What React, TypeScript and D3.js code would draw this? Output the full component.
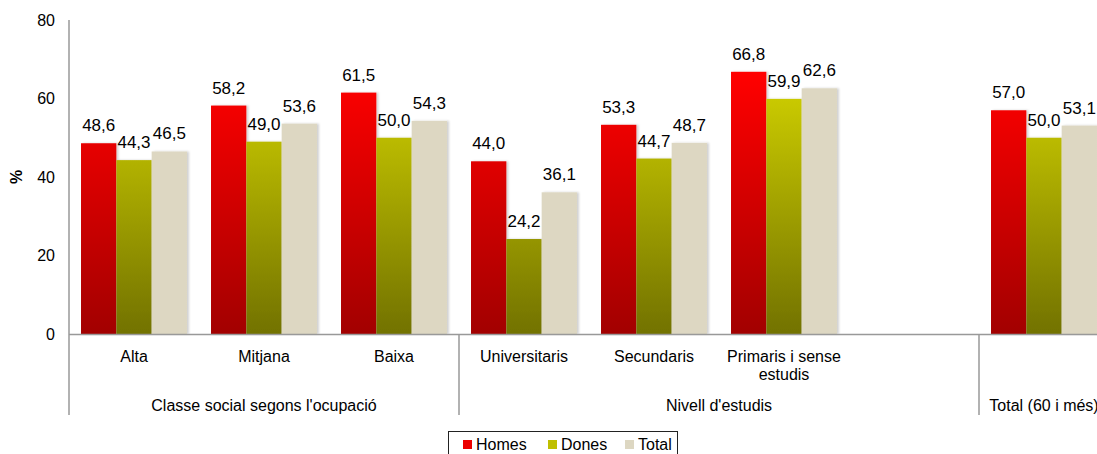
import React, { useEffect, useRef } from 'react';
import * as d3 from 'd3';

// categories (first level labels, "\n" splits lines)
const categories = ['Alta', 'Mitjana', 'Baixa', 'Universitaris', 'Secundaris', 'Primaris i sense\nestudis', '', 'Total'];
const categoryLabels = ['Alta', 'Mitjana', 'Baixa', 'Universitaris', 'Secundaris', 'Primaris i sense\nestudis', '', ''];
const groupNames = ["Classe social segons l'ocupació", "Nivell d'estudis", 'Total (60 i més)'];
const groupSizes = [3, 4, 1];

const seriesKeys = ['Homes', 'Dones', 'Total'];
const homes = [48.6, 58.2, 61.5, 44.0, 53.3, 66.8, null, 57.0];
const dones = [44.3, 49.0, 50.0, 24.2, 44.7, 59.9, null, 50.0];
const total = [46.5, 53.6, 54.3, 36.1, 48.7, 62.6, null, 53.1];
const yTicks = [0, 20, 40, 60, 80];

const gradients: Record<string, [string, string]> = {
  Homes: ['#ff0000', '#a20000'],
  Dones: ['#d2d200', '#727200'],
  Total: ['#ddd7c2', '#ddd7c2'],
};

const App: React.FC = () => {
  const svgRef = useRef<SVGSVGElement>(null);

  useEffect(() => {
    if (!svgRef.current) return;
    const svg = d3.select(svgRef.current);
    svg.selectAll('*').remove();

    const width = 1097;
    const font = '"Liberation Sans", Arial, sans-serif';
    const left = 69;
    const step = 130;
    const baseY = 334;
    const axisBottom = 415;

    const x = d3.scaleBand<number>()
      .domain(categories.map((_, i) => i))
      .range([left, left + step * categories.length])
      .padding(0);
    const xSub = d3.scaleBand<string>()
      .domain(seriesKeys)
      .range([0, x.bandwidth()])
      .paddingInner(0)
      .paddingOuter(0.34);
    const y = d3.scaleLinear().domain([0, 80]).range([baseY, 20]);

    const defs = svg.append('defs');
    seriesKeys.forEach(k => {
      const g = defs.append('linearGradient')
        .attr('id', `grad-${k}`)
        .attr('gradientUnits', 'userSpaceOnUse')
        .attr('x1', 0).attr('x2', 0)
        .attr('y1', y(66)).attr('y2', baseY);
      g.append('stop').attr('offset', '0%').attr('stop-color', gradients[k][0]);
      g.append('stop').attr('offset', '100%').attr('stop-color', gradients[k][1]);
    });
    const shadow = defs.append('filter').attr('id', 'bar-shadow')
      .attr('x', '-10%').attr('y', '-10%').attr('width', '130%').attr('height', '120%');
    shadow.append('feDropShadow')
      .attr('dx', 2).attr('dy', 0).attr('stdDeviation', 1)
      .attr('flood-color', '#000').attr('flood-opacity', 0.18);

    // y tick labels
    svg.append('g').selectAll('text')
      .data(yTicks)
      .enter()
      .append('text')
      .attr('x', 55)
      .attr('y', d => y(d))
      .attr('dy', '0.35em')
      .attr('text-anchor', 'end')
      .attr('font-family', font)
      .attr('font-size', '16px')
      .attr('fill', '#000')
      .text(d => d);

    svg.append('text')
      .attr('transform', `translate(22, ${y(40)}) rotate(-90)`)
      .attr('text-anchor', 'middle')
      .attr('font-family', font)
      .attr('font-size', '16px')
      .attr('font-weight', '700')
      .text('%');

    // bars
    const series = [
      { key: 'Homes', values: homes },
      { key: 'Dones', values: dones },
      { key: 'Total', values: total },
    ];
    series.forEach(s => {
      const pts = s.values
        .map((v, i) => ({ v, i }))
        .filter(d => d.v !== null) as { v: number; i: number }[];
      const g = svg.append('g');
      g.selectAll('rect')
        .data(pts)
        .enter()
        .append('rect')
        .attr('x', d => (x(d.i) as number) + (xSub(s.key) as number))
        .attr('y', d => y(d.v))
        .attr('width', xSub.bandwidth())
        .attr('height', d => baseY - y(d.v))
        .attr('fill', `url(#grad-${s.key})`)
        .attr('filter', 'url(#bar-shadow)');
      g.selectAll('text')
        .data(pts)
        .enter()
        .append('text')
        .attr('x', d => (x(d.i) as number) + (xSub(s.key) as number) + xSub.bandwidth() / 2)
        .attr('y', d => y(d.v) - 12)
        .attr('text-anchor', 'middle')
        .attr('font-family', font)
        .attr('font-size', '17px')
        .attr('fill', '#000')
        .text(d => d.v.toFixed(1).replace('.', ','));
    });

    // axes lines
    const axisColor = '#999';
    svg.append('line')
      .attr('x1', left).attr('x2', width)
      .attr('y1', baseY + 0.5).attr('y2', baseY + 0.5)
      .attr('stroke', axisColor).attr('stroke-width', 1.5);
    svg.append('line')
      .attr('x1', left).attr('x2', left)
      .attr('y1', y(80)).attr('y2', axisBottom)
      .attr('stroke', axisColor).attr('stroke-width', 1.5);

    // group separators
    const groupStarts = groupSizes.map((_, gi) => d3.sum(groupSizes.slice(0, gi)));
    svg.append('g').selectAll('line')
      .data(groupStarts.slice(1))
      .enter()
      .append('line')
      .attr('x1', d => x(d) as number).attr('x2', d => x(d) as number)
      .attr('y1', baseY).attr('y2', axisBottom)
      .attr('stroke', axisColor).attr('stroke-width', 1.5);

    // category labels
    const catG = svg.append('g');
    categoryLabels.forEach((c, i) => {
      if (!c) return;
      const t = catG.append('text')
        .attr('text-anchor', 'middle')
        .attr('font-family', font)
        .attr('font-size', '16px')
        .attr('fill', '#000');
      c.split('\n').forEach((line, li) => {
        t.append('tspan')
          .attr('x', (x(i) as number) + x.bandwidth() / 2)
          .attr('y', 362 + li * 18)
          .text(line);
      });
    });

    // group labels
    svg.append('g').selectAll('text')
      .data(groupNames)
      .enter()
      .append('text')
      .attr('x', (_, gi) => (x(groupStarts[gi]) as number) + groupSizes[gi] * step / 2)
      .attr('y', 411)
      .attr('text-anchor', 'middle')
      .attr('font-family', font)
      .attr('font-size', '16px')
      .attr('fill', '#000')
      .text(d => d);

    // legend
    const legend = svg.append('g');
    legend.append('rect')
      .attr('x', 448.5).attr('y', 431.5)
      .attr('width', 229).attr('height', 30)
      .attr('fill', '#fff').attr('stroke', '#222').attr('stroke-width', 1);
    const legendX = [463, 548, 625];
    seriesKeys.forEach((k, i) => {
      legend.append('rect')
        .attr('x', legendX[i]).attr('y', 440)
        .attr('width', 9).attr('height', 9)
        .attr('fill', `url(#legend-${k})`)
        .attr('fill', gradients[k][0] === gradients[k][1] ? gradients[k][0] : d3.interpolateRgb(gradients[k][0], gradients[k][1])(0.2));
      legend.append('text')
        .attr('x', legendX[i] + 13).attr('y', 450)
        .attr('font-family', font)
        .attr('font-size', '16px')
        .attr('fill', '#000')
        .text(k);
    });
  }, []);

  return (
    <svg
      ref={svgRef}
      width={1097}
      height={454}
      viewBox="0 0 1097 454"
      style={{ position: 'absolute', left: 0, top: 0, background: '#fff' }}
    />
  );
};

export default App;
